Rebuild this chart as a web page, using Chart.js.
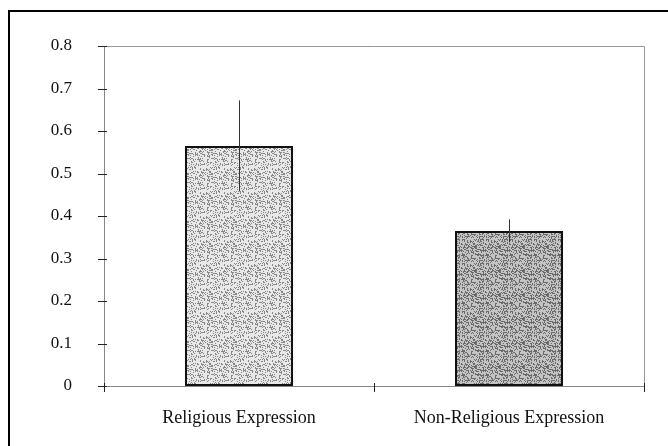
<!DOCTYPE html>
<html>
<head>
<meta charset="utf-8">
<script src="https://cdn.jsdelivr.net/npm/chart.js@4.4.1/dist/chart.umd.min.js"></script>
<style>
  html, body { margin: 0; padding: 0; background: #fff; }
  #wrap { width: 668px; height: 446px; position: relative; }
</style>
</head>
<body>
<div id="wrap"><canvas id="chart" width="668" height="446"></canvas></div>
<script>
// chart data
const categories = ['Religious Expression', 'Non-Religious Expression'];
const means = [0.565, 0.365];
const errors = [0.107, 0.027];
const yTicks = [0, 0.1, 0.2, 0.3, 0.4, 0.5, 0.6, 0.7, 0.8];

// speckled fill, like the old office-style pattern bars
function makeStipple(base, dark, density) {
    const c = document.createElement('canvas');
    c.width = 24; c.height = 24;
    const g = c.getContext('2d');
    g.fillStyle = base;
    g.fillRect(0, 0, 24, 24);
    g.fillStyle = dark;
    for (let y = 0; y < 24; y++) {
        for (let x = 0; x < 24; x++) {
            const h = ((x * 374761393 + y * 668265263) ^ (x * y * 2246822519)) >>> 0;
            if ((h % 1000) / 1000 < density) g.fillRect(x, y, 1, 1);
        }
    }
    return g.createPattern(c, 'repeat');
}

const ctx = document.getElementById('chart').getContext('2d');
const fills = [makeStipple('#e8e8e8', '#888', 0.28), makeStipple('#c4c4c4', '#6a6a6a', 0.38)];

const framePlugin = {
    id: 'frame',
    afterDraw(chart) {
        const c = chart.ctx;
        const xs = chart.scales.x, ys = chart.scales.y;
        const area = chart.chartArea;
        c.save();
        // outer frame (only left and top are inside the picture)
        c.strokeStyle = '#000';
        c.lineWidth = 2;
        c.beginPath();
        c.moveTo(9, 446);
        c.lineTo(9, 11);
        c.lineTo(668, 11);
        c.stroke();
        // plot box top and right
        c.strokeStyle = '#999';
        c.lineWidth = 1;
        c.beginPath();
        c.moveTo(area.left, area.top + 0.5);
        c.lineTo(area.right + 0.5, area.top + 0.5);
        c.lineTo(area.right + 0.5, area.bottom);
        c.stroke();
        // y tick marks crossing the axis
        c.strokeStyle = '#222';
        yTicks.forEach(v => {
            const py = Math.round(ys.getPixelForValue(v)) + 0.5;
            c.beginPath();
            c.moveTo(area.left - 6, py);
            c.lineTo(area.left + 3, py);
            c.stroke();
        });
        // x tick marks at category boundaries
        for (let i = 0; i <= categories.length; i++) {
            const px = Math.round(area.left + (area.right - area.left) * i / categories.length) + 0.5;
            c.beginPath();
            c.moveTo(px, area.bottom - 3);
            c.lineTo(px, area.bottom + 6);
            c.stroke();
        }
        // error bars
        c.strokeStyle = '#333';
        means.forEach((m, i) => {
            const px = Math.round(xs.getPixelForValue(i)) + 0.5;
            c.beginPath();
            c.moveTo(px, ys.getPixelForValue(m + errors[i]));
            c.lineTo(px, ys.getPixelForValue(m - errors[i]));
            c.stroke();
        });
        c.restore();
    }
};

new Chart(ctx, {
    type: 'bar',
    data: {
        labels: categories,
        datasets: [{
            data: means,
            backgroundColor: fills,
            borderColor: '#111',
            borderWidth: 2,
            borderSkipped: false,
            categoryPercentage: 1,
            barPercentage: 0.4
        }]
    },
    options: {
        responsive: false,
        animation: false,
        layout: { padding: { top: 46, right: 24, left: 0, bottom: 0 } },
        plugins: { legend: { display: false }, tooltip: { enabled: false } },
        scales: {
            x: {
                afterFit: s => { s.height = 60; },
                grid: { display: false },
                border: { color: '#888', width: 1 },
                ticks: {
                    color: '#111',
                    padding: 13,
                    font: { family: '"Liberation Serif", "Times New Roman", serif', size: 18 }
                }
            },
            y: {
                min: 0,
                max: 0.8,
                afterFit: s => { s.width = 104; },
                afterBuildTicks: s => { s.ticks = yTicks.map(v => ({ value: v })); },
                grid: { display: false },
                border: { color: '#888', width: 1 },
                ticks: {
                    color: '#111',
                    padding: 24,
                    callback: v => String(Math.round(v * 10) / 10),
                    font: { family: '"Liberation Serif", "Times New Roman", serif', size: 17 }
                }
            }
        }
    },
    plugins: [framePlugin]
});
</script>
</body>
</html>
